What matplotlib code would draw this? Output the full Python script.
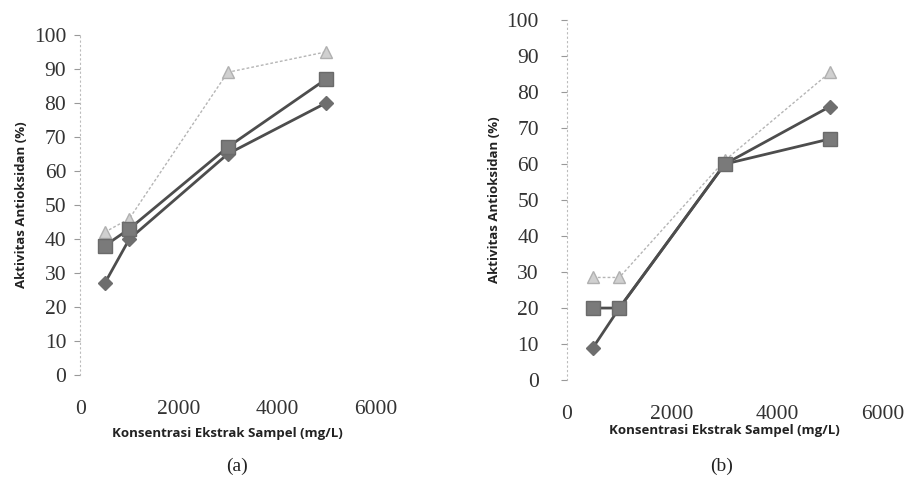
import matplotlib
matplotlib.use("Agg")
import matplotlib.pyplot as plt

# ---- data ----
konsentrasi = [500, 1000, 3000, 5000]

# panel (a)
a_diamond = [27, 40, 65, 80]
a_square = [38, 43, 67, 87]
a_triangle = [42, 46, 89, 95]

# panel (b)
b_diamond = [9, 20, 60, 76]
b_square = [20, 20, 60, 67]
b_triangle = [28.5, 28.5, 61, 85.5]

x_ticks = [0, 2000, 4000, 6000]
y_ticks = [0, 10, 20, 30, 40, 50, 60, 70, 80, 90, 100]
y_label = "Aktivitas Antioksidan (%)"
x_label = "Konsentrasi Ekstrak Sampel (mg/L)"
captions = ["(a)", "(b)"]

fig = plt.figure(figsize=(9.11, 4.91), dpi=100)

ax_a = fig.add_axes([0.088, 0.236, 0.324, 0.693])
ax_b = fig.add_axes([0.622, 0.226, 0.347, 0.733])

num_font = "Liberation Serif"
lab_font = "Open Sans"

def style(ax, series, ypad, xpad, xlpad):
    d, s, t = series
    ax.plot(konsentrasi, t, color="#b5b5b5", lw=1.0, ls=(0, (2, 1.5)),
            marker="^", ms=9, mfc="#d0d0d0", mec="#b0b0b0", zorder=2)
    ax.plot(konsentrasi, d, color="#4d4d4d", lw=2.0,
            marker="D", ms=7, mfc="#6e6e6e", mec="#6e6e6e", zorder=3)
    ax.plot(konsentrasi, s, color="#4d4d4d", lw=2.0,
            marker="s", ms=10, mfc="#7a7a7a", mec="#6a6a6a", zorder=4)
    ax.set_xlim(0, 6000)
    ax.set_ylim(0, 100)
    ax.set_xticks(x_ticks)
    ax.set_yticks(y_ticks)
    ax.set_xticklabels([str(v) for v in x_ticks], fontsize=15.5, family=num_font, color="#333333")
    ax.set_yticklabels([str(v) for v in y_ticks], fontsize=15.5, family=num_font, color="#333333")
    for sp in ["top", "right", "bottom"]:
        ax.spines[sp].set_visible(False)
    ax.spines["left"].set_color("#bbbbbb")
    ax.spines["left"].set_linestyle((0, (1, 3)))
    ax.spines["left"].set_linewidth(0.8)
    ax.tick_params(axis="y", length=4, width=0.8, color="#999999", pad=ypad)
    ax.tick_params(axis="x", length=0, pad=xpad)
    ax.set_ylabel(y_label, fontsize=9.5, family=lab_font, fontweight="bold", color="#222222", labelpad=4)
    ax.set_xlabel(x_label, fontsize=9.5, family=lab_font, fontweight="bold", color="#222222", labelpad=xlpad)
    ax.set_facecolor("none")

style(ax_a, (a_diamond, a_square, a_triangle), 6, 18, 6)
style(ax_b, (b_diamond, b_square, b_triangle), 16, 18, 0)

fig.text(237 / 911, 1 - 466 / 491, captions[0], ha="center", va="center",
         fontsize=14, family=num_font, color="#222222")
fig.text(722 / 911, 1 - 466 / 491, captions[1], ha="center", va="center",
         fontsize=14, family=num_font, color="#222222")

fig.savefig("out.png", dpi=100, facecolor="white")
